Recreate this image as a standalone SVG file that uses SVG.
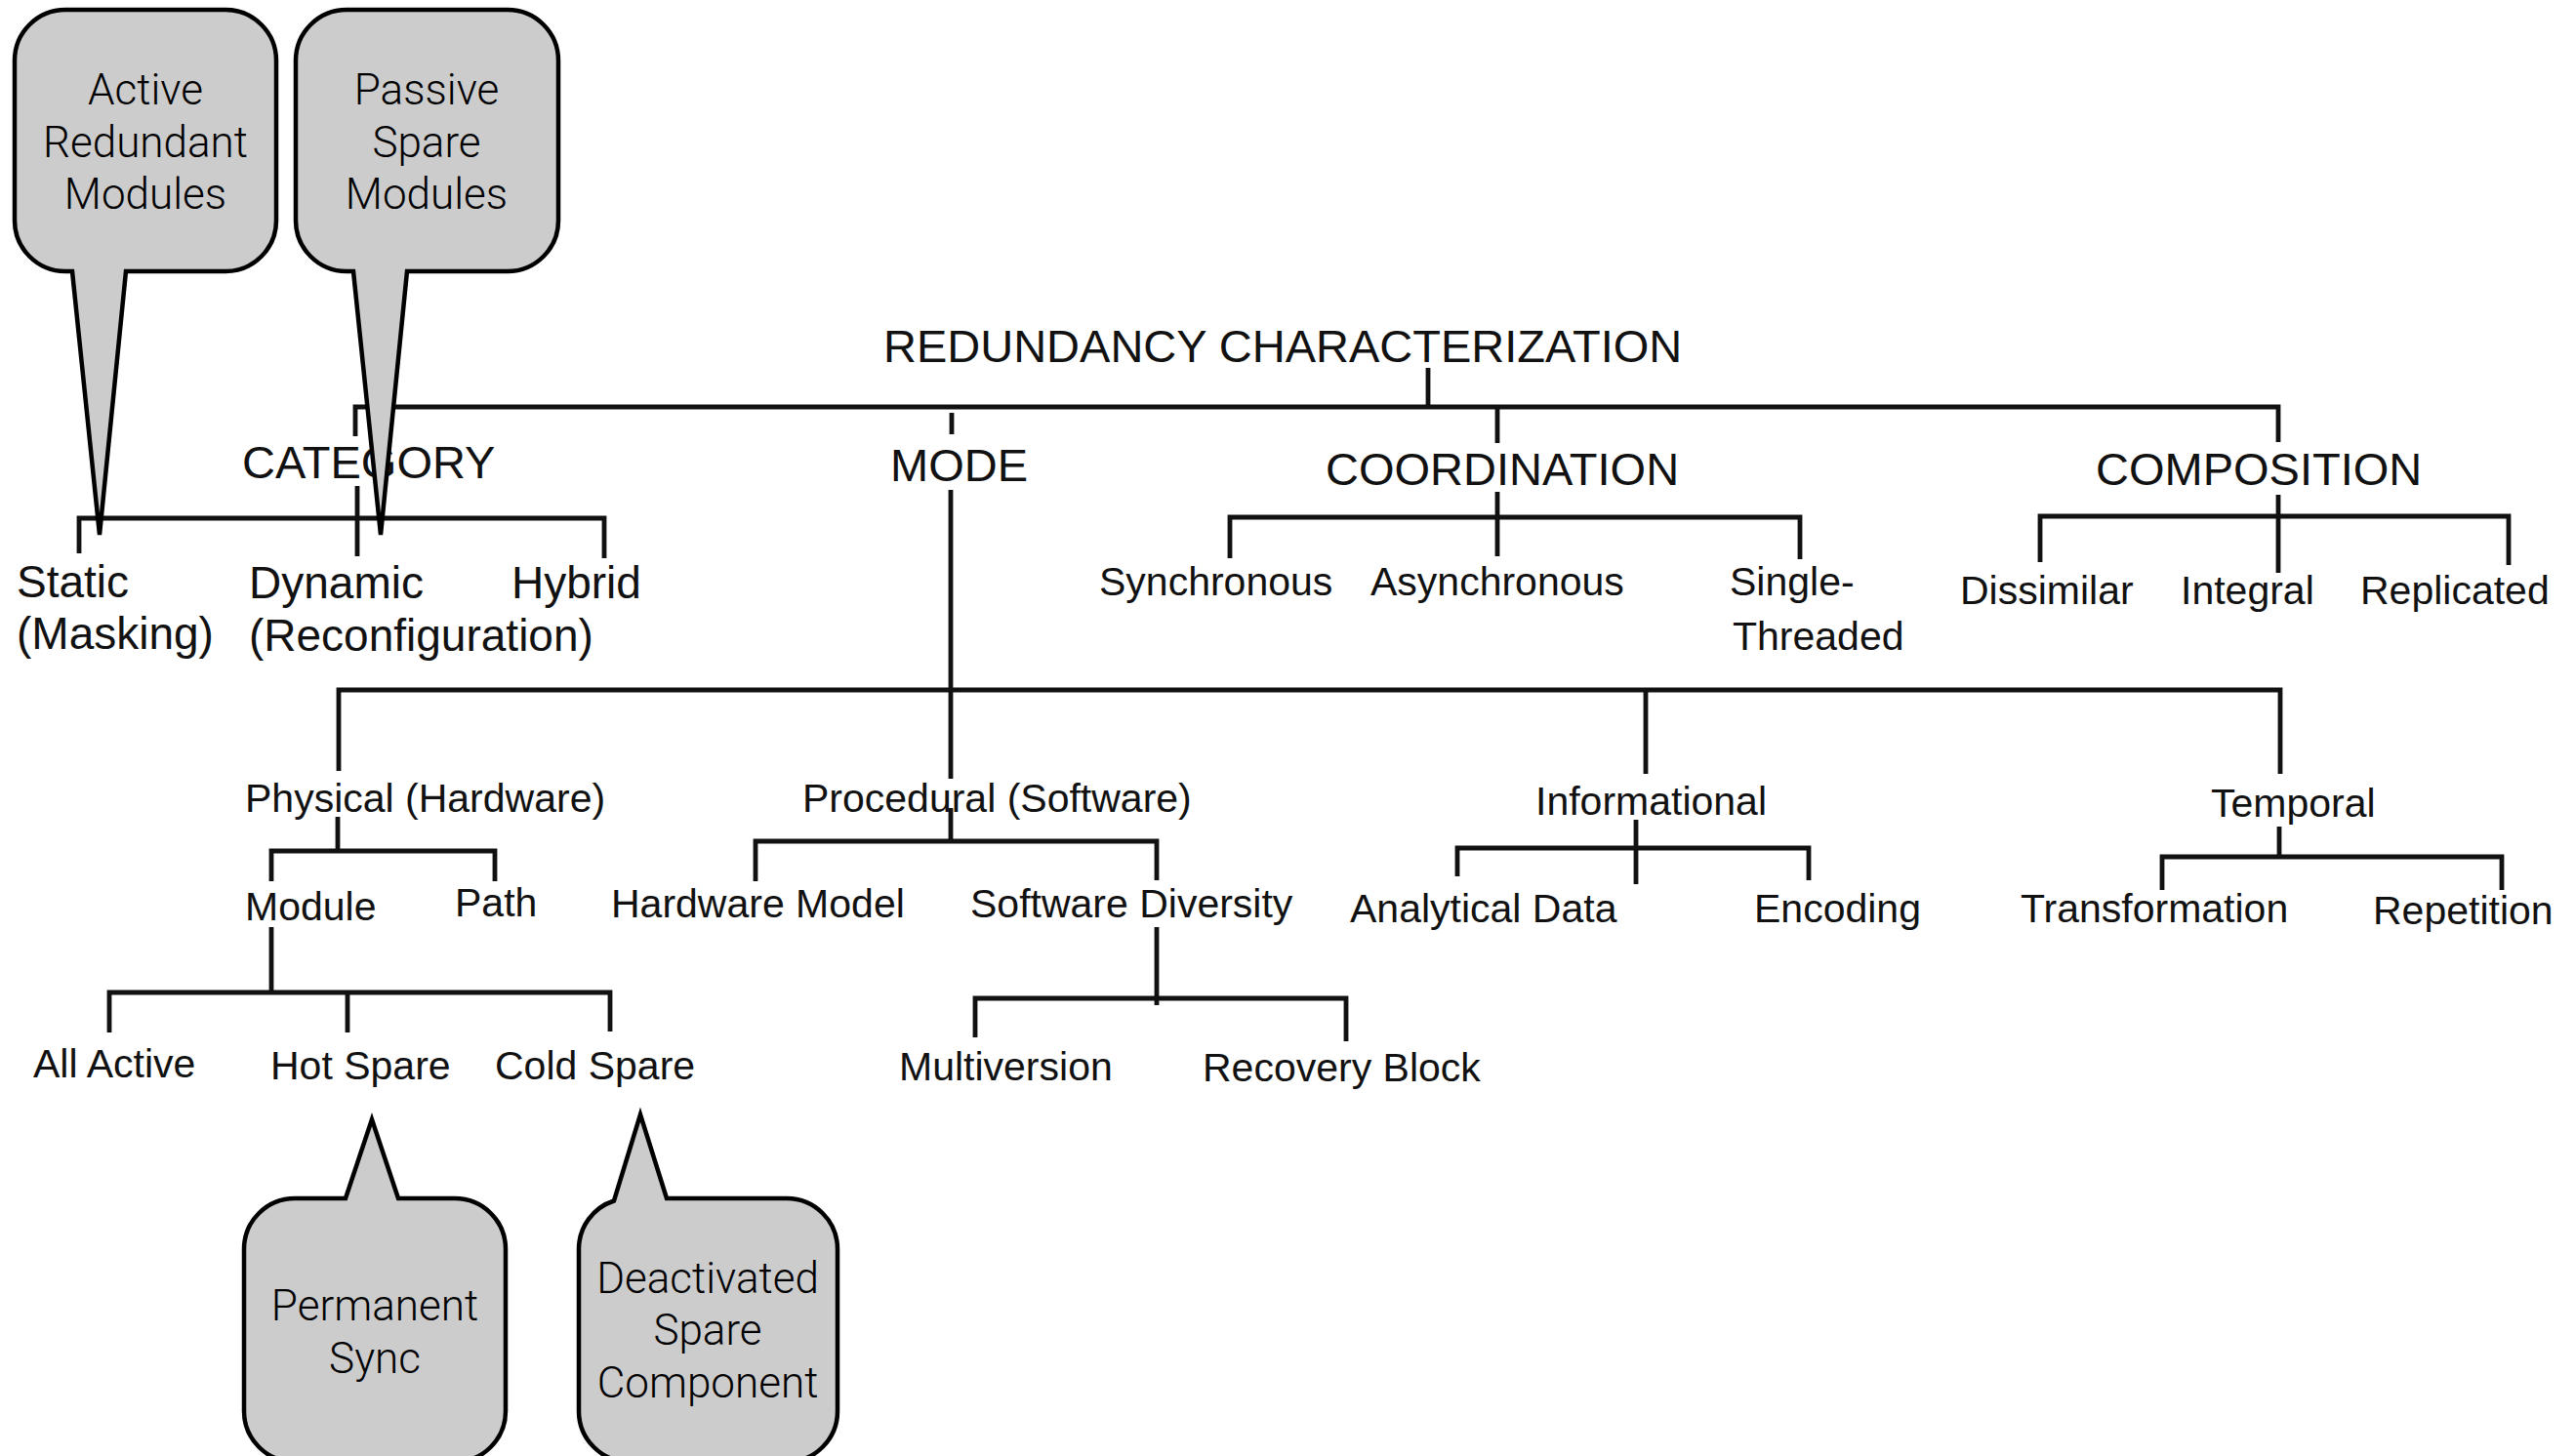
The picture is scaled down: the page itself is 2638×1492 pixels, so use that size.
<svg xmlns="http://www.w3.org/2000/svg" width="2638" height="1492" viewBox="0 0 2638 1492">
  <style>
    .bg { fill: #ffffff; }
    .wire { fill: none; stroke: #111111; stroke-width: 4.8; stroke-linecap: butt; stroke-linejoin: miter; }
    .t { font-family: "Liberation Sans", Arial, Helvetica, sans-serif; fill: #111111; }
    .h { font-size: 47px; }
    .c { font-size: 46px; }
    .n { font-size: 41px; }
    .bubble { fill: #cccccc; stroke: #000000; stroke-width: 4.5; stroke-linejoin: miter; }
    .bt { font-family: Roboto, "Liberation Sans", Arial, sans-serif; font-weight: 300; font-size: 44px; fill: #000000; text-anchor: middle; }
  </style>

  <rect class="bg" x="0" y="0" width="2638" height="1492"/>

  <!-- tree connectors -->
  <g id="connectors" class="wire">
    <!-- root -->
    <line x1="1463" y1="377" x2="1463" y2="417"/>
    <polyline points="364,447 364,417 2334,417 2334,453"/>
    <line x1="975" y1="423" x2="975" y2="445"/>
    <line x1="1534" y1="417" x2="1534" y2="454"/>

    <!-- category -->
    <line x1="366" y1="498" x2="366" y2="570"/>
    <polyline points="81,567 81,531 619,531 619,572"/>

    <!-- coordination -->
    <line x1="1534" y1="504" x2="1534" y2="570"/>
    <polyline points="1260,572 1260,530 1844,530 1844,573"/>

    <!-- composition -->
    <line x1="2334" y1="507" x2="2334" y2="587"/>
    <polyline points="2090,576 2090,529 2570,529 2570,579"/>

    <!-- mode -->
    <line x1="974" y1="502" x2="974" y2="798"/>
    <polyline points="347,790 347,707 2336,707 2336,793"/>
    <line x1="1686" y1="707" x2="1686" y2="793"/>

    <!-- physical -->
    <line x1="346" y1="837" x2="346" y2="872"/>
    <polyline points="278,903 278,872 507,872 507,903"/>
    <line x1="278" y1="950" x2="278" y2="1017"/>
    <polyline points="112,1058 112,1017 625,1017 625,1057"/>
    <line x1="356" y1="1017" x2="356" y2="1058"/>

    <!-- procedural -->
    <line x1="974" y1="828" x2="974" y2="862"/>
    <polyline points="774,903 774,862 1185,862 1185,902"/>
    <line x1="1185" y1="950" x2="1185" y2="1030"/>
    <polyline points="999,1063 999,1023 1379,1023 1379,1067"/>

    <!-- informational -->
    <line x1="1676" y1="840" x2="1676" y2="906"/>
    <polyline points="1493,898 1493,869 1853,869 1853,902"/>

    <!-- temporal -->
    <line x1="2335" y1="847" x2="2335" y2="878"/>
    <polyline points="2215,912 2215,878 2563,878 2563,912"/>
  </g>

  <!-- tree labels -->
  <g id="root"><text class="t h" x="905" y="371">REDUNDANCY CHARACTERIZATION</text></g>

  <g id="category"><text class="t h" x="248" y="490">CATEGORY</text></g>
  <g id="mode"><text class="t h" x="912" y="493">MODE</text></g>
  <g id="coordination"><text class="t h" x="1358" y="497">COORDINATION</text></g>
  <g id="composition"><text class="t h" x="2147" y="497">COMPOSITION</text></g>

  <g id="static"><text class="t c" x="17" y="612">Static</text><text class="t c" x="17" y="665">(Masking)</text></g>
  <g id="dynamic"><text class="t c" x="255" y="613">Dynamic</text><text class="t c" x="255" y="667">(Reconfiguration)</text></g>
  <g id="hybrid"><text class="t c" x="524" y="613">Hybrid</text></g>

  <g id="synchronous"><text class="t n" x="1126" y="610">Synchronous</text></g>
  <g id="asynchronous"><text class="t n" x="1404" y="610">Asynchronous</text></g>
  <g id="single-threaded"><text class="t n" x="1772" y="610">Single-</text><text class="t n" x="1775" y="666">Threaded</text></g>

  <g id="dissimilar"><text class="t n" x="2008" y="619">Dissimilar</text></g>
  <g id="integral"><text class="t n" x="2234" y="619">Integral</text></g>
  <g id="replicated"><text class="t n" x="2418" y="619">Replicated</text></g>

  <g id="physical"><text class="t n" x="251" y="832">Physical (Hardware)</text></g>
  <g id="procedural"><text class="t n" x="822" y="832">Procedural (Software)</text></g>
  <g id="informational"><text class="t n" x="1573" y="835">Informational</text></g>
  <g id="temporal"><text class="t n" x="2265" y="837">Temporal</text></g>

  <g id="module"><text class="t n" x="251" y="943">Module</text></g>
  <g id="path"><text class="t n" x="466" y="939">Path</text></g>
  <g id="hardware-model"><text class="t n" x="626" y="940">Hardware Model</text></g>
  <g id="software-diversity"><text class="t n" x="994" y="940">Software Diversity</text></g>
  <g id="analytical-data"><text class="t n" x="1383" y="945">Analytical Data</text></g>
  <g id="encoding"><text class="t n" x="1797" y="945">Encoding</text></g>
  <g id="transformation"><text class="t n" x="2070" y="945">Transformation</text></g>
  <g id="repetition"><text class="t n" x="2431" y="947">Repetition</text></g>

  <g id="all-active"><text class="t n" x="34" y="1104">All Active</text></g>
  <g id="hot-spare"><text class="t n" x="277" y="1106">Hot Spare</text></g>
  <g id="cold-spare"><text class="t n" x="507" y="1106">Cold Spare</text></g>
  <g id="multiversion"><text class="t n" x="921" y="1107">Multiversion</text></g>
  <g id="recovery-block"><text class="t n" x="1232" y="1108">Recovery Block</text></g>

  <!-- speech-bubble annotations -->
  <g id="note-active">
    <path class="bubble" d="M 67,10 H 231 A 52 52 0 0 1 283,62 V 226 A 52 52 0 0 1 231,278 H 129 L 102,548 L 74,278 H 67 A 52 52 0 0 1 15,226 V 62 A 52 52 0 0 1 67,10 Z"/>
    <text class="bt" x="149" y="107">Active</text>
    <text class="bt" x="149" y="161">Redundant</text>
    <text class="bt" x="149" y="214">Modules</text>
  </g>
  <g id="note-passive">
    <path class="bubble" d="M 355,10 H 520 A 52 52 0 0 1 572,62 V 226 A 52 52 0 0 1 520,278 H 417 L 390,548 L 362,278 H 355 A 52 52 0 0 1 303,226 V 62 A 52 52 0 0 1 355,10 Z"/>
    <text class="bt" x="437" y="107">Passive</text>
    <text class="bt" x="437" y="161">Spare</text>
    <text class="bt" x="437" y="214">Modules</text>
  </g>
  <g id="note-hot">
    <path class="bubble" d="M 302,1228 H 354 L 381,1147 L 408,1228 H 466 A 52 52 0 0 1 518,1280 V 1446 A 52 52 0 0 1 466,1498 H 302 A 52 52 0 0 1 250,1446 V 1280 A 52 52 0 0 1 302,1228 Z"/>
    <text class="bt" x="384" y="1353">Permanent</text>
    <text class="bt" x="384" y="1407">Sync</text>
  </g>
  <g id="note-cold">
    <path class="bubble" d="M 593,1280 A 52 52 0 0 1 629,1230.5 L 656,1142 L 683,1228 H 806 A 52 52 0 0 1 858,1280 V 1446 A 52 52 0 0 1 806,1498 H 645 A 52 52 0 0 1 593,1446 Z"/>
    <text class="bt" x="725" y="1325">Deactivated</text>
    <text class="bt" x="725" y="1378">Spare</text>
    <text class="bt" x="725" y="1432">Component</text>
  </g>
</svg>
